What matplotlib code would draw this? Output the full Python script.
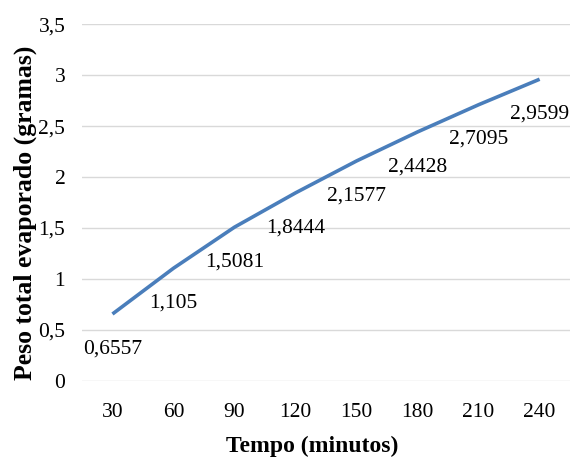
import matplotlib.pyplot as plt

# dados
tempo = ['30', '60', '90', '120', '150', '180', '210', '240']
peso = [0.6557, 1.105, 1.5081, 1.8444, 2.1577, 2.4428, 2.7095, 2.9599]
rotulos = ['0,6557', '1,105', '1,5081', '1,8444', '2,1577', '2,4428', '2,7095', '2,9599']
yticks = [0, 0.5, 1, 1.5, 2, 2.5, 3, 3.5]
ytick_labels = ['0', '0,5', '1', '1,5', '2', '2,5', '3', '3,5']

plt.rcParams['font.family'] = ['Liberation Serif', 'DejaVu Serif']

fig = plt.figure(figsize=(5.73, 4.65), dpi=100)
ax = fig.add_axes([0.143, 0.181, 0.852, 0.767])

x = list(range(len(tempo)))
ax.plot(x, peso, color='#4A7EBB', linewidth=2.6, solid_capstyle='butt')

for xi, yi, lab in zip(x, peso, rotulos):
    ax.annotate(lab, (xi, yi), xytext=(0, -25), textcoords='offset points',
                ha='center', va='center', fontsize=15.5)

ax.set_xlim(-0.5, len(tempo) - 0.5)
ax.set_ylim(0, 3.5)
ax.set_xticks(x)
ax.set_xticklabels(tempo, fontsize=15.5)
ax.set_yticks(yticks)
ax.set_yticklabels(ytick_labels, fontsize=15.5)
ax.tick_params(axis='x', length=0, pad=16)
ax.tick_params(axis='y', length=0, pad=12)

ax.grid(axis='y', color='#D9D9D9', linewidth=1)
ax.set_axisbelow(True)
for s in ax.spines.values():
    s.set_visible(False)

ax.set_xlabel('Tempo (minutos)', fontsize=17, fontweight='bold')
ax.set_ylabel('Peso total evaporado (gramas)', fontsize=18.5, fontweight='bold')
ax.xaxis.set_label_coords(0.471, -0.155)
ax.yaxis.set_label_coords(-0.092, 0.47)

fig.savefig('out.png', dpi=100)
